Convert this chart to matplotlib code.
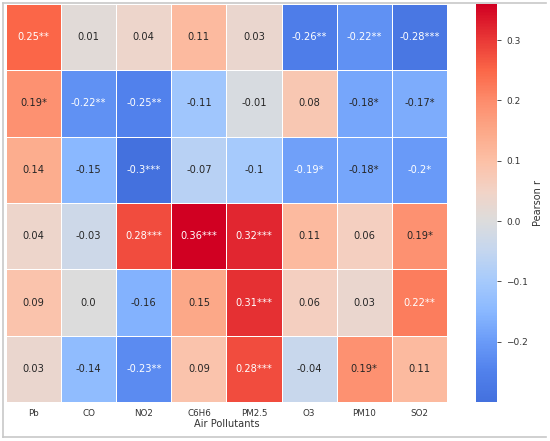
import numpy as np
import matplotlib
matplotlib.use("Agg")
import matplotlib.pyplot as plt
import seaborn as sns
from matplotlib.lines import Line2D
from matplotlib.colors import LinearSegmentedColormap

pollutants = ["Pb", "CO", "NO2", "C6H6", "PM2.5", "O3", "PM10", "SO2"]

r_values = [
    [0.25, 0.01, 0.04, 0.11, 0.03, -0.26, -0.22, -0.28],
    [0.19, -0.22, -0.25, -0.11, -0.01, 0.08, -0.18, -0.17],
    [0.14, -0.15, -0.30, -0.07, -0.10, -0.19, -0.18, -0.20],
    [0.04, -0.03, 0.28, 0.36, 0.32, 0.11, 0.06, 0.19],
    [0.09, 0.00, -0.16, 0.15, 0.31, 0.06, 0.03, 0.22],
    [0.03, -0.14, -0.23, 0.09, 0.28, -0.04, 0.19, 0.11],
]

stars = [
    [2, 0, 0, 0, 0, 2, 2, 3],
    [1, 2, 2, 0, 0, 0, 1, 1],
    [0, 0, 3, 0, 0, 1, 1, 1],
    [0, 0, 3, 3, 3, 0, 0, 1],
    [0, 0, 0, 0, 3, 0, 0, 2],
    [0, 0, 2, 0, 3, 0, 1, 0],
]

vmin, vmax = -0.3, 0.36
cmap_stops = [-0.30, -0.25, -0.20, -0.15, -0.10, -0.05, 0.00, 0.05, 0.10, 0.15, 0.20, 0.25, 0.30, 0.36]
cmap_colors = ["#4471de", "#5181ec", "#6a9bf8", "#8ab8ff", "#a6cafc", "#c4d6ef", "#dcdcdc",
               "#f2d3c6", "#fcc0a6", "#fca888", "#fd8c6c", "#fb6748", "#ea3a37", "#d10022"]
cmap = LinearSegmentedColormap.from_list(
    "ref", [((s - vmin) / (vmax - vmin), c) for s, c in zip(cmap_stops, cmap_colors)])

data = np.array(r_values)
labels = np.array([[f"{round(v, 2)}" + "*" * s for v, s in zip(rv, sv)]
                   for rv, sv in zip(r_values, stars)])

fig = plt.figure(figsize=(5.5, 4.41), dpi=100)
ax = fig.add_axes([6/550, 39/441, 441/550, 398/441])
cax = fig.add_axes([476/550, 39/441, 21/550, 398/441])

sns.heatmap(data, ax=ax, cbar_ax=cax, cmap=cmap,
            vmin=vmin, vmax=vmax, annot=False,
            linewidths=0.6, linecolor="white",
            xticklabels=pollutants, yticklabels=False,
            cbar_kws={"label": "Pearson r"})

for i in range(data.shape[0]):
    for j in range(data.shape[1]):
        v = data[i, j]
        col = "white" if (v <= -0.19 or v >= 0.22) else "#262626"
        ax.text(j + 0.5, i + 0.5, labels[i, j], ha="center", va="center",
                fontsize=7.1, color=col)

ax.tick_params(axis="x", length=0, labelsize=6.3, colors="#333333", pad=5)
ax.set_xlabel("Air Pollutants", fontsize=7.1, color="#333333", labelpad=1)
for t in ax.get_xticklabels():
    t.set_rotation(0)

cax.tick_params(labelsize=6.5, length=3, width=0.6, colors="#333333")
cax.set_ylabel("Pearson r", fontsize=7, color="#333333")
cax.set_yticks([-0.2, -0.1, 0.0, 0.1, 0.2, 0.3])
for s in cax.spines.values():
    s.set_visible(False)

# figure frame
fc = "#c8c8c8"
fig.add_artist(Line2D([3/550, 3/550], [4/441, 438/441], color=fc, lw=1.2, transform=fig.transFigure))
fig.add_artist(Line2D([3/550, 546/550], [438/441, 438/441], color=fc, lw=1.2, transform=fig.transFigure))
fig.add_artist(Line2D([3/550, 546/550], [4/441, 4/441], color=fc, lw=1.2, transform=fig.transFigure))

fig.savefig("out.png", dpi=100)
